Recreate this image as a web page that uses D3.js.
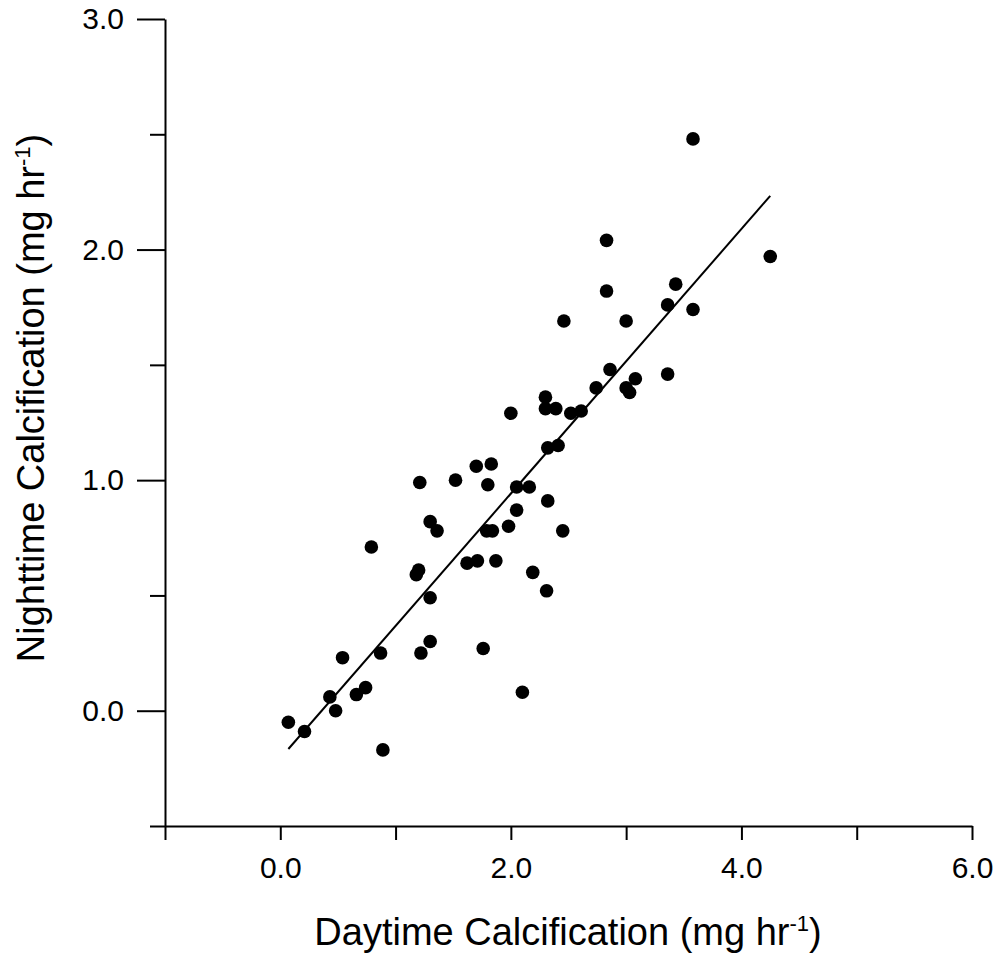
<!DOCTYPE html>
<html>
<head>
<meta charset="utf-8">
<script src="https://cdn.jsdelivr.net/npm/d3@7"></script>
<style>
  body { margin: 0; background: #fff; }
  text { font-family: "Liberation Sans", Arial, sans-serif; fill: #000; }
</style>
</head>
<body>
<div class="canvas"></div>
<script>
// data (mg hr-1)
const dayCalc = [
	0.07, 0.21, 0.43, 0.48, 0.54, 0.66, 0.74, 0.79, 0.87, 0.89,
	1.21, 1.52, 1.30, 1.36, 1.20, 1.18, 1.30, 1.30, 1.22, 1.70,
	1.83, 1.80, 1.62, 1.71, 1.87, 1.79, 1.84, 1.98, 2.05, 2.05,
	2.16, 2.32, 2.32, 2.41, 2.45, 2.19, 2.31, 1.76, 2.10, 2.00,
	2.30, 2.30, 2.39, 2.52, 2.61, 2.74, 2.86, 3.00, 3.03, 3.08,
	2.46, 3.00, 3.36, 3.36, 3.58, 3.43, 2.83, 2.83, 3.58, 4.25
];
const nightCalc = [
	-0.05, -0.09, 0.06, 0.00, 0.23, 0.07, 0.10, 0.71, 0.25, -0.17,
	0.99, 1.00, 0.82, 0.78, 0.61, 0.59, 0.49, 0.30, 0.25, 1.06,
	1.07, 0.98, 0.64, 0.65, 0.65, 0.78, 0.78, 0.80, 0.87, 0.97,
	0.97, 0.91, 1.14, 1.15, 0.78, 0.60, 0.52, 0.27, 0.08, 1.29,
	1.36, 1.31, 1.31, 1.29, 1.30, 1.40, 1.48, 1.40, 1.38, 1.44,
	1.69, 1.69, 1.46, 1.76, 1.74, 1.85, 1.82, 2.04, 2.48, 1.97
];
// regression line end points
const fitX = [0.07, 4.25];
const fitY = [-0.166, 2.233];

const xMajor = [0, 2, 4, 6];
const xTicks = [-1, 0, 1, 2, 3, 4, 5, 6];
const yMajor = [0, 1, 2, 3];
const yMinor = [-0.5, 0.5, 1.5, 2.5];

const points = dayCalc.map((d, i) => ({x: d, y: nightCalc[i]}));
const fit = fitX.map((d, i) => ({x: d, y: fitY[i]}));

const svg = d3.select('.canvas')
	.append('svg')
	.attr('width', 996)
	.attr('height', 959);

const margin = {top: 19, right: 24, bottom: 133, left: 165};
const graphWidth = 996 - margin.left - margin.right;
const graphHeight = 959 - margin.top - margin.bottom;

const graph = svg.append('g')
	.attr('transform', `translate(${margin.left},${margin.top})`);

const x = d3.scaleLinear().domain([-1, 6]).range([0, graphWidth]);
const y = d3.scaleLinear().domain([-0.5, 3]).range([graphHeight, 0]);

const fmt = d3.format('.1f');

// x axis
const xAxisGroup = graph.append('g')
	.attr('transform', `translate(0,${graphHeight})`)
	.call(d3.axisBottom(x)
		.tickValues(xTicks)
		.tickSize(14)
		.tickSizeOuter(0)
		.tickPadding(17)
		.tickFormat(d => xMajor.includes(d) ? fmt(d) : ''));

// y axis: minor ticks then major ticks with labels
const yMinorGroup = graph.append('g')
	.call(d3.axisLeft(y)
		.tickValues(yMinor)
		.tickSize(15)
		.tickSizeOuter(0)
		.tickFormat(''));
yMinorGroup.select('.domain').remove();

const yAxisGroup = graph.append('g')
	.call(d3.axisLeft(y)
		.tickValues(yMajor)
		.tickSize(28)
		.tickSizeOuter(0)
		.tickPadding(13)
		.tickFormat(fmt));

graph.selectAll('.domain, .tick line')
	.attr('stroke', '#000')
	.attr('stroke-width', 2);
graph.selectAll('.tick text')
	.attr('font-size', 30)
	.attr('font-family', '"Liberation Sans", Arial, sans-serif')
	.attr('fill', '#000');

// regression line
const line = d3.line().x(d => x(d.x)).y(d => y(d.y));
graph.append('path')
	.datum(fit)
	.attr('d', line)
	.attr('fill', 'none')
	.attr('stroke', '#000')
	.attr('stroke-width', 2);

// points
graph.selectAll('circle')
	.data(points)
	.enter()
	.append('circle')
	.attr('cx', d => x(d.x))
	.attr('cy', d => y(d.y))
	.attr('r', 6.8)
	.attr('fill', '#000');

// axis titles
const xTitle = svg.append('text')
	.attr('x', 568)
	.attr('y', 945)
	.attr('text-anchor', 'middle')
	.attr('font-size', 38);
xTitle.append('tspan').text('Daytime Calcification (mg hr');
xTitle.append('tspan').attr('font-size', 22).attr('dy', -14).text('-1');
xTitle.append('tspan').attr('dy', 14).text(')');

const yTitle = svg.append('text')
	.attr('transform', 'translate(44,398) rotate(-90)')
	.attr('text-anchor', 'middle')
	.attr('font-size', 38);
yTitle.append('tspan').text('Nighttime Calcification (mg hr');
yTitle.append('tspan').attr('font-size', 22).attr('dy', -14).text('-1');
yTitle.append('tspan').attr('dy', 14).text(')');
</script>
</body>
</html>
